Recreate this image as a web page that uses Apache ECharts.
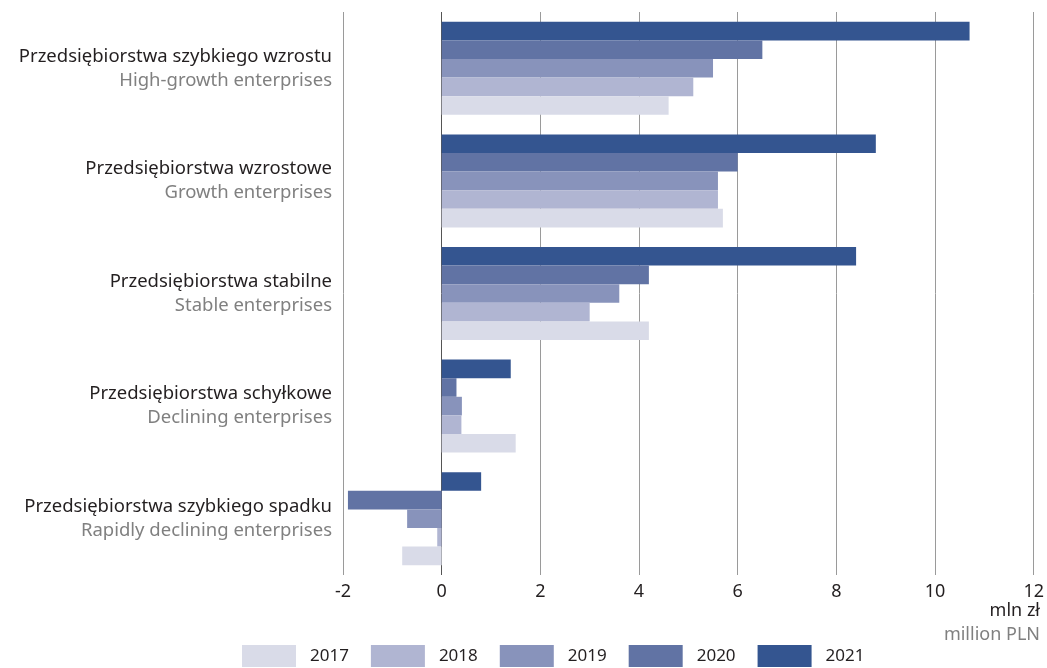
<!DOCTYPE html>
<html>
<head>
<meta charset="utf-8">
<script src="https://cdn.jsdelivr.net/npm/echarts@6/dist/echarts.min.js"></script>
<style>
  html, body { margin: 0; padding: 0; background: #fff; }
  #main { width: 1047px; height: 668px; }
</style>
</head>
<body>
<div id="main"></div>
<script>
// kategorie od dołu do góry (oś kategorii rośnie w górę)
var catsPl = ['Przedsiębiorstwa szybkiego spadku', 'Przedsiębiorstwa schyłkowe', 'Przedsiębiorstwa stabilne', 'Przedsiębiorstwa wzrostowe', 'Przedsiębiorstwa szybkiego wzrostu'];
var catsEn = ['Rapidly declining enterprises', 'Declining enterprises', 'Stable enterprises', 'Growth enterprises', 'High-growth enterprises'];
var years = ['2017', '2018', '2019', '2020', '2021'];
var v2017 = [-0.8, 1.5, 4.2, 5.7, 4.6];
var v2018 = [-0.09, 0.4, 3.0, 5.6, 5.1];
var v2019 = [-0.7, 0.41, 3.6, 5.6, 5.5];
var v2020 = [-1.9, 0.3, 4.2, 6.0, 6.5];
var v2021 = [0.8, 1.4, 8.4, 8.8, 10.7];
var colors = ['#d9dbe8', '#b0b5d2', '#8893bb', '#6173a4', '#345590'];

var allValues = [v2017, v2018, v2019, v2020, v2021];
var catLabels = catsPl.map(function (c, i) { return c + '\n' + catsEn[i]; });
var font = 'Noto Sans';

// 2021 ma być na górze każdej grupy -> serie w odwrotnej kolejności
var series = [];
for (var i = years.length - 1; i >= 0; i--) {
  series.push({
    name: years[i],
    type: 'bar',
    barWidth: 18.6,
    barGap: '0%',
    barCategoryGap: '17%',
    itemStyle: { color: colors[i] },
    data: allValues[i]
  });
}

var myChart = echarts.init(document.getElementById('main'));
var option = {
  animation: false,
  textStyle: { fontFamily: font },
  grid: {
    left: 343,
    right: 11,
    top: 12,
    height: 563
  },
  legend: {
    left: 242,
    top: 645,
    padding: 0,
    itemWidth: 54,
    itemHeight: 22,
    itemGap: 22,
    icon: 'rect',
    textStyle: {
      fontSize: 17,
      color: '#231f20',
      padding: [0, 0, 0, 9]
    },
    data: years
  },
  xAxis: {
    type: 'value',
    min: -2,
    max: 12,
    interval: 2,
    axisLine: { show: false },
    axisTick: { show: false },
    axisLabel: {
      fontSize: 18,
      color: '#231f20',
      margin: 8
    },
    splitLine: {
      lineStyle: {
        color: ['#9a9a9a', '#555', '#9a9a9a', '#9a9a9a', '#9a9a9a', '#9a9a9a', '#9a9a9a', '#9a9a9a'],
        width: 1
      }
    }
  },
  yAxis: {
    type: 'category',
    data: catLabels,
    axisLine: { show: false },
    axisTick: { show: false },
    axisLabel: {
      margin: 11,
      align: 'right',
      formatter: function (val) {
        var p = val.split('\n');
        return '{a|' + p[0] + '}\n{b|' + p[1] + '}';
      },
      rich: {
        a: { fontSize: 18.5, color: '#231f20', lineHeight: 24, align: 'right', fontFamily: font },
        b: { fontSize: 18.5, color: '#808080', lineHeight: 24, align: 'right', fontFamily: font }
      }
    }
  },
  graphic: [
    {
      type: 'text',
      right: 7,
      top: 602,
      style: { text: 'mln zł', fontSize: 18, fill: '#231f20', fontFamily: font, align: 'right' }
    },
    {
      type: 'text',
      right: 7,
      top: 626,
      style: { text: 'million PLN', fontSize: 18, fill: '#808080', fontFamily: font, align: 'right' }
    }
  ],
  series: series
};

myChart.setOption(option);
window.onresize = function () {
  myChart.resize();
}
</script>
</body>
</html>
